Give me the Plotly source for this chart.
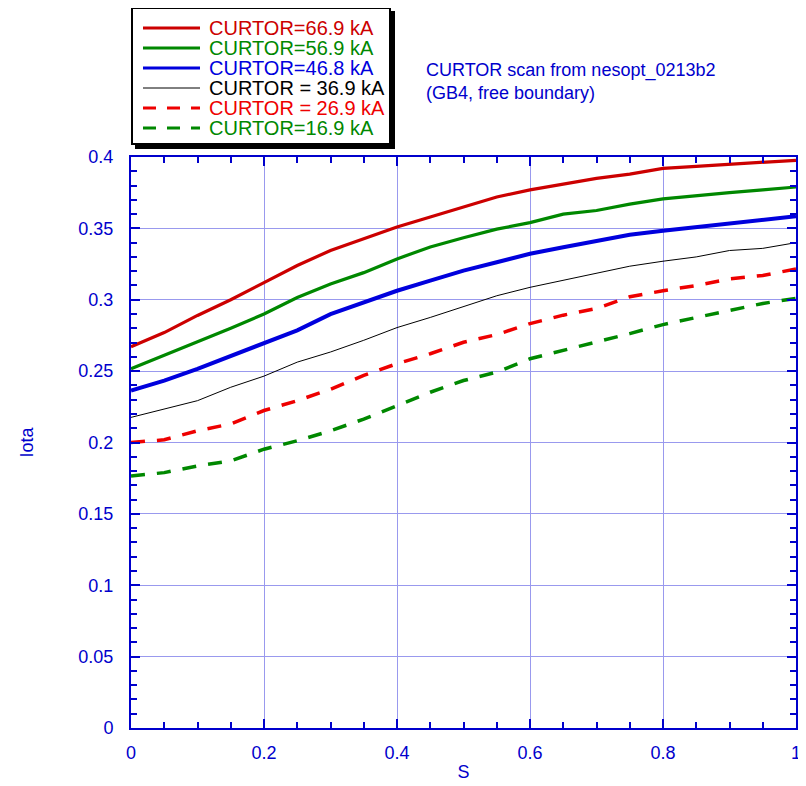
import plotly.graph_objects as go

s = [0, 0.05, 0.1, 0.15, 0.2, 0.25, 0.3, 0.35, 0.4, 0.45, 0.5,
     0.55, 0.6, 0.65, 0.7, 0.75, 0.8, 0.85, 0.9, 0.95, 1.0]

iota_669 = [0.267, 0.277, 0.289, 0.300, 0.312, 0.324, 0.3345, 0.343, 0.351, 0.358, 0.365,
            0.372, 0.377, 0.381, 0.385, 0.388, 0.392, 0.3935, 0.395, 0.396, 0.3977]
iota_569 = [0.2516, 0.261, 0.270, 0.280, 0.290, 0.3016, 0.311, 0.319, 0.3286, 0.337, 0.3434,
            0.3495, 0.354, 0.360, 0.3625, 0.367, 0.3707, 0.373, 0.375, 0.377, 0.379]
iota_468 = [0.2364, 0.2434, 0.2516, 0.2606, 0.2692, 0.2786, 0.2899, 0.298, 0.3063, 0.3134, 0.3204,
            0.3263, 0.3322, 0.3368, 0.341, 0.3455, 0.3484, 0.351, 0.3535, 0.3566, 0.3585]
iota_369 = [0.2176, 0.2235, 0.2293, 0.2387, 0.2465, 0.2563, 0.2634, 0.2716, 0.2805, 0.2876, 0.2950,
            0.3028, 0.3087, 0.3138, 0.3185, 0.3235, 0.327, 0.330, 0.3345, 0.336, 0.340]
iota_269 = [0.200, 0.2019, 0.2082, 0.213, 0.2224, 0.2293, 0.2373, 0.247, 0.2552, 0.2622, 0.2702,
            0.2756, 0.2833, 0.2892, 0.2939, 0.3021, 0.3063, 0.310, 0.3146, 0.317, 0.3216]
iota_169 = [0.1765, 0.1789, 0.1836, 0.1871, 0.1953, 0.2012, 0.2082, 0.2164, 0.2258, 0.2352, 0.2434,
            0.2493, 0.2587, 0.2646, 0.270, 0.2763, 0.2826, 0.2876, 0.2927, 0.2974, 0.301]

names = ["CURTOR=66.9 kA", "CURTOR=56.9 kA", "CURTOR=46.8 kA",
         "CURTOR = 36.9 kA", "CURTOR = 26.9 kA", "CURTOR=16.9 kA"]
values = [iota_669, iota_569, iota_468, iota_369, iota_269, iota_169]
colors = ["#cc0000", "#008800", "#0000dd", "#000000", "#ee0000", "#008800"]
widths = [3.2, 3.2, 4, 1, 3.5, 3.5]
dashes = ["solid", "solid", "solid", "solid", "14px,12px", "14px,12px"]

x_ticks = [0, 0.2, 0.4, 0.6, 0.8, 1]
y_ticks = [0, 0.05, 0.1, 0.15, 0.2, 0.25, 0.3, 0.35, 0.4]

AX = "#0000cc"
GRID = "#9999ee"
FONT = "Liberation Sans, Arial, sans-serif"

OFF = 8  # page body margin
W, H = 806 - OFF, 786 - OFF
ML, MT = 131 - OFF, 157 - OFF
PW, PH = 665, 571
MR, MB = W - ML - PW, H - MT - PH


def px(xp):
    return (xp - OFF - ML) / PW


def py(yp):
    return (MT + PH - (yp - OFF)) / PH


fig = go.Figure()
for name, vals, col, w, dash in zip(names, values, colors, widths, dashes):
    fig.add_trace(go.Scatter(
        x=s, y=vals, mode="lines", name=name, showlegend=False,
        line=dict(color=col, width=w, dash=dash),
    ))

fig.update_xaxes(
    range=[0, 1], tickvals=x_ticks, ticktext=[f"{v:g}" for v in x_ticks],
    showgrid=True, gridcolor=GRID, gridwidth=1,
    showline=True, linecolor=AX, linewidth=2, mirror="ticks",
    ticks="inside", ticklen=9, tickcolor=AX, tickwidth=1.5,
    minor=dict(dtick=0.05, ticks="inside", ticklen=6, tickcolor=AX, tickwidth=1.5, showgrid=False),
    tickfont=dict(color=AX, size=18, family=FONT), ticklabelstandoff=7,
    title=dict(text="S", font=dict(color=AX, size=18, family=FONT), standoff=4),
    zeroline=False, automargin=False,
)
fig.update_yaxes(
    range=[0, 0.4], tickvals=y_ticks, ticktext=[f"{v:g}" for v in y_ticks],
    showgrid=True, gridcolor=GRID, gridwidth=1,
    showline=True, linecolor=AX, linewidth=2, mirror="ticks",
    ticks="inside", ticklen=9, tickcolor=AX, tickwidth=1.5,
    minor=dict(dtick=0.01, ticks="inside", ticklen=6, tickcolor=AX, tickwidth=1.5, showgrid=False),
    tickfont=dict(color=AX, size=18, family=FONT), ticklabelstandoff=12,
    title=dict(text="Iota", font=dict(color=AX, size=18, family=FONT), standoff=40),
    zeroline=False, automargin=False,
)

fig.add_annotation(
    xref="paper", yref="paper", x=px(424), y=py(81), xanchor="left", yanchor="middle",
    text="CURTOR scan from nesopt_0213b2<br>(GB4, free boundary)",
    showarrow=False, align="left", font=dict(color=AX, size=18, family=FONT),
)

# hand-drawn legend box with drop shadow
fig.add_shape(type="rect", xref="paper", yref="paper",
              x0=px(135), x1=px(395), y0=py(149), y1=py(11),
              fillcolor="black", line=dict(width=0), layer="above")
fig.add_shape(type="rect", xref="paper", yref="paper",
              x0=px(132), x1=px(390), y0=py(144), y1=py(8),
              fillcolor="white", line=dict(color="black", width=2), layer="above")

for i, (name, col, w, dash) in enumerate(zip(names, colors, widths, dashes)):
    yy = py(28 + 20 * i)
    ldash = "13px,11px" if dash != "solid" else "solid"
    fig.add_shape(type="line", xref="paper", yref="paper",
                  x0=px(143), x1=px(200), y0=yy, y1=yy,
                  line=dict(color=col, width=min(w, 3.2), dash=ldash), layer="above")
    fig.add_annotation(xref="paper", yref="paper", x=px(207), y=yy,
                       xanchor="left", yanchor="middle", text=name,
                       showarrow=False, font=dict(color=col, size=20, family=FONT))

fig.update_layout(
    width=W, height=H,
    margin=dict(l=ML, r=MR, t=MT, b=MB),
    paper_bgcolor="white", plot_bgcolor="white",
    showlegend=False,
    font=dict(family=FONT),
)

fig.write_html("out.html")
